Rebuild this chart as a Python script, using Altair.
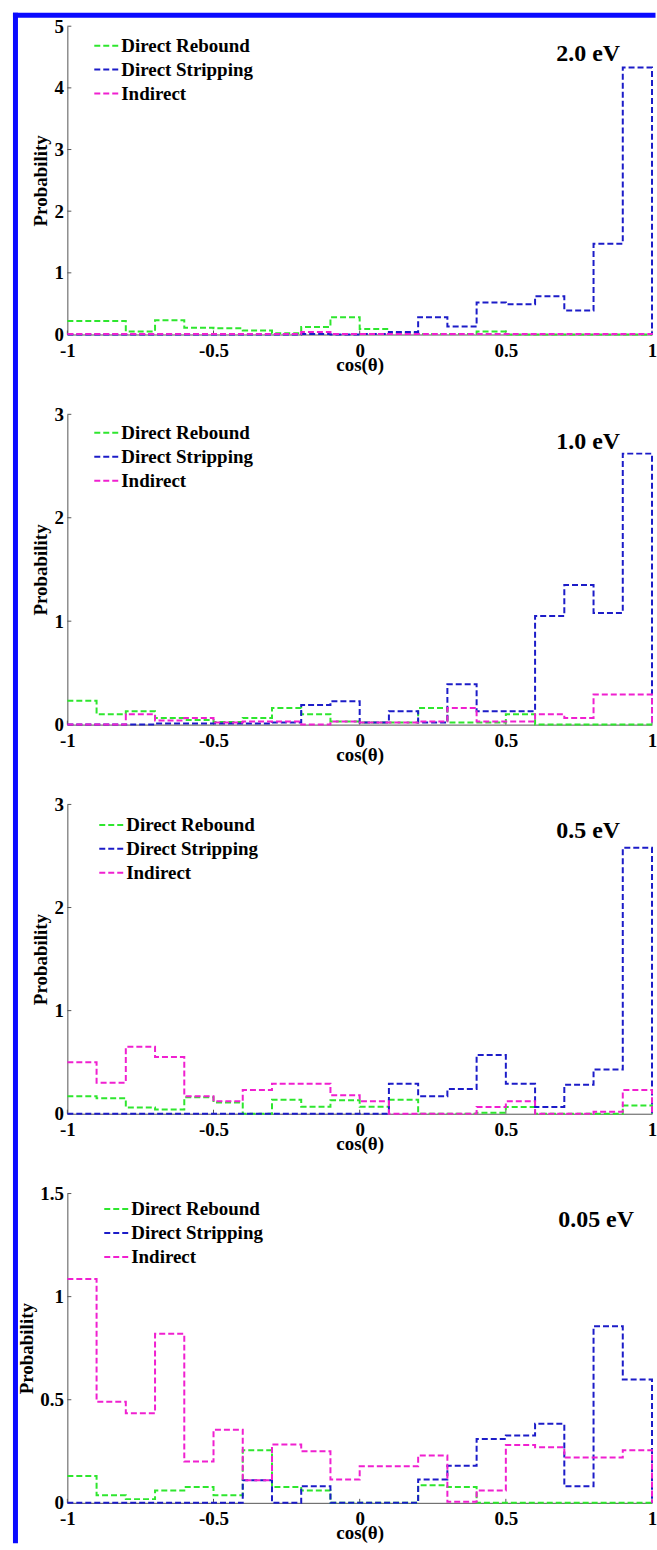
import altair as alt
import pandas as pd

# ---------------- data ----------------
edges = [round(-1 + 0.1 * i, 1) for i in range(21)]
series = ["Direct Rebound", "Direct Stripping", "Indirect"]
colors = ["#2ee62e", "#1c1cc8", "#f020d0"]

energies = ["2.0 eV", "1.0 eV", "0.5 eV", "0.05 eV"]
ymax = [5, 3, 3, 1.5]
yticks = [[0, 1, 2, 3, 4, 5], [0, 1, 2, 3], [0, 1, 2, 3], [0, 0.5, 1, 1.5]]
xticks = [-1, -0.5, 0, 0.5, 1]

rebound_2p0 = [0.22, 0.22, 0.05, 0.23, 0.11, 0.10, 0.065, 0.02, 0.12, 0.28,
               0.09, 0.02, 0.01, 0.01, 0.05, 0, 0, 0, 0, 0]
stripping_2p0 = [0, 0, 0, 0, 0, 0, 0, 0, 0.01, 0, 0.01, 0.04, 0.28, 0.13,
                 0.52, 0.49, 0.62, 0.39, 1.47, 4.33]
indirect_2p0 = [0.01, 0.01, 0.01, 0.01, 0.01, 0.01, 0.01, 0.01, 0.04, 0.01,
                0.01, 0.01, 0.01, 0.01, 0.01, 0.01, 0.01, 0.01, 0.01, 0.01]

rebound_1p0 = [0.23, 0.10, 0.13, 0.065, 0.045, 0.025, 0.065, 0.16, 0.10, 0.03,
               0.02, 0.02, 0.16, 0.02, 0.02, 0.10, 0, 0, 0, 0]
stripping_1p0 = [0, 0, 0, 0.01, 0.01, 0.01, 0.01, 0.02, 0.19, 0.225, 0.02,
                 0.13, 0.02, 0.39, 0.13, 0.13, 1.05, 1.35, 1.08, 2.62]
indirect_1p0 = [0, 0, 0.10, 0.04, 0.065, 0.02, 0.03, 0.03, 0.0, 0.03, 0.02,
                0.02, 0.03, 0.16, 0.03, 0.03, 0.10, 0.065, 0.29, 0.29]

rebound_0p5 = [0.17, 0.15, 0.06, 0.04, 0.16, 0.11, 0, 0.135, 0.068, 0.13,
               0.068, 0.135, 0, 0, 0.01, 0.065, 0, 0, 0, 0.08]
stripping_0p5 = [0, 0, 0, 0, 0, 0, 0, 0, 0, 0, 0, 0.29, 0.17, 0.24, 0.57,
                 0.29, 0.065, 0.28, 0.43, 2.58]
indirect_0p5 = [0.50, 0.30, 0.65, 0.55, 0.17, 0.12, 0.23, 0.29, 0.29, 0.18,
                0.12, 0, 0, 0, 0.065, 0.12, 0, 0, 0.02, 0.23]

rebound_0p05 = [0.13, 0.037, 0.018, 0.06, 0.077, 0.037, 0.255, 0.077, 0.06, 0,
                0, 0, 0.085, 0.077, 0, 0, 0, 0, 0, 0]
stripping_0p05 = [0, 0, 0, 0, 0, 0, 0.11, 0, 0.08, 0, 0, 0, 0.113, 0.18, 0.31,
                  0.327, 0.384, 0.08, 0.856, 0.598]
indirect_0p05 = [1.085, 0.49, 0.435, 0.82, 0.20, 0.355, 0.11, 0.283, 0.25,
                 0.113, 0.177, 0.177, 0.23, 0.005, 0.06, 0.28, 0.27, 0.22,
                 0.22, 0.255]

panels_data = [
    [rebound_2p0, stripping_2p0, indirect_2p0],
    [rebound_1p0, stripping_1p0, indirect_1p0],
    [rebound_0p5, stripping_0p5, indirect_0p5],
    [rebound_0p05, stripping_0p05, indirect_0p05],
]

# ---------------- style ----------------
SERIF = "Liberation Serif"
W = 586
heights = [309, 311, 310, 310]
legend_pos = [(26, 6), (26, 5), (31, 7), (36, 2)]
label_pos = [(490, 35), (490, 35), (490, 34), (492, 34)]
AXIS_COLOR = "#555555"
BORDER = "#0a0aff"


def make_table(vals_list):
    rows = []
    for name, vals in zip(series, vals_list):
        for i, v in enumerate(vals):
            rows.append({"x": edges[i], "y": v, "series": name})
        rows.append({"x": 1.0, "y": 0.0, "series": name})
    return pd.DataFrame(rows)


def make_panel(k):
    H = heights[k]
    xscale = alt.Scale(domain=[-1, 1], nice=False, zero=False)
    yscale = alt.Scale(domain=[0, ymax[k]], nice=False)
    xaxis = alt.Axis(values=xticks, labelExpr="'' + datum.value",
                     title="cos(θ)", titleFont=SERIF, titleFontSize=19,
                     titleFontWeight="bold", titleColor="black",
                     titlePadding=-5, labelFont=SERIF, labelFontSize=19,
                     labelFontWeight="bold", labelColor="black",
                     labelFlush=False, labelOverlap=False,
                     labelPadding=7, tickSize=0, grid=False,
                     domainColor=AXIS_COLOR)
    yaxis = alt.Axis(values=yticks[k], labelExpr="'' + datum.value",
                     title="Probability", titleFont=SERIF,
                     titleFontSize=19, titleFontWeight="bold",
                     titleColor="black", titlePadding=3,
                     labelFont=SERIF, labelFontSize=19,
                     labelFontWeight="bold", labelColor="black",
                     labelPadding=4, tickSize=0, grid=False,
                     labelOverlap=False, domainColor=AXIS_COLOR)
    lx, ly = legend_pos[k]
    lines = alt.Chart(make_table(panels_data[k])).mark_line(
        interpolate="step-after", strokeWidth=2, strokeDash=[6, 3], clip=False
    ).encode(
        x=alt.X("x:Q", scale=xscale, axis=xaxis),
        y=alt.Y("y:Q", scale=yscale, axis=yaxis),
        color=alt.Color("series:N",
                        scale=alt.Scale(domain=series, range=colors),
                        legend=alt.Legend(orient="none", legendX=lx, legendY=ly,
                                          title=None, symbolType="stroke",
                                          symbolSize=625, symbolStrokeWidth=2,
                                          symbolDash=[6, 3], labelFont=SERIF,
                                          labelFontSize=19, labelFontWeight="bold",
                                          labelColor="black", labelOffset=1,
                                          rowPadding=-1, padding=0)),
    )
    xt = alt.Chart(pd.DataFrame({"x": xticks})).mark_rule(
        color=AXIS_COLOR, strokeWidth=1
    ).encode(x=alt.X("x:Q", scale=xscale, axis=xaxis),
             y=alt.value(H), y2=alt.value(H - 4))
    yt = alt.Chart(pd.DataFrame({"y": yticks[k]})).mark_rule(
        color=AXIS_COLOR, strokeWidth=1
    ).encode(y=alt.Y("y:Q", scale=yscale, axis=yaxis),
             x=alt.value(0), x2=alt.value(4))
    tx, ty = label_pos[k]
    txt = alt.Chart(pd.DataFrame({"label": [energies[k]]})).mark_text(
        align="left", baseline="alphabetic", font=SERIF, fontWeight="bold",
        fontSize=24, color="black"
    ).encode(x=alt.value(tx), y=alt.value(ty), text="label:N")
    layers = [xt, yt, lines, txt]
    if k == 0:
        one = pd.DataFrame({"d": [0]})
        vborder = alt.Chart(one).mark_rule(
            color=BORDER, strokeWidth=5, strokeCap="square"
        ).encode(x=alt.value(-52), y=alt.value(-11), y2=alt.value(1518))
        hborder = alt.Chart(one).mark_rule(
            color=BORDER, strokeWidth=5, strokeCap="square"
        ).encode(x=alt.value(-52), x2=alt.value(587), y=alt.value(-11))
        layers = [vborder, hborder] + layers
    return alt.layer(*layers).properties(width=W, height=H)


panels = [make_panel(k) for k in range(4)]
chart = alt.vconcat(*panels, spacing=80, bounds="flush").resolve_scale(
    color="independent"
).resolve_legend(color="independent").properties(
    padding={"left": 11.5, "top": 9.5, "right": 0, "bottom": 0},
    background="white",
).configure_view(stroke=None)

chart.save("out.html", embed_options={"renderer": "svg", "actions": False})
